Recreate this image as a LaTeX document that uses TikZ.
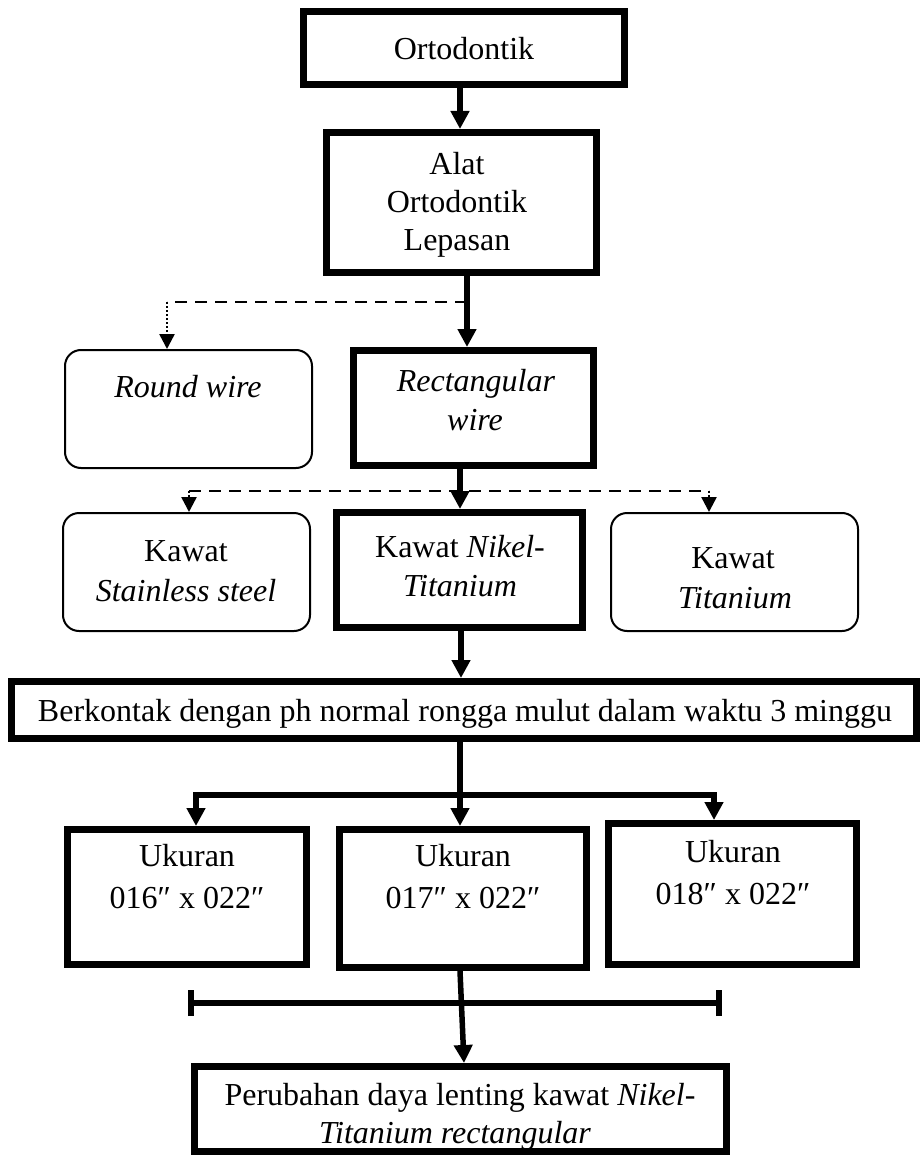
\documentclass[tikz,border=0pt]{standalone}
\usepackage{fontspec}
\setmainfont{Liberation Serif}
\usetikzlibrary{arrows.meta}
\begin{document}
\begin{tikzpicture}[x=1pt,y=-1pt,
  tbox/.style={draw, line width=7pt, inner sep=0pt},
  rbox/.style={draw, line width=2pt, rounded corners=16pt, inner sep=0pt},
  txt/.style={font=\fontsize{32pt}{38pt}\selectfont, inner sep=0pt, anchor=base},
  arr/.style={line width=5.5pt, -{Triangle[width=18pt,length=18pt]}},
  tl/.style={line width=5.5pt},
  dsh/.style={line width=2.5pt, dash pattern=on 12pt off 8pt},
  dotar/.style={line width=2.5pt, dash pattern=on 2pt off 2pt, -{Triangle[width=15pt,length=15pt]}}]
\fill[white] (0,0) rectangle (921,1155);
\useasboundingbox (0,0) rectangle (921,1155);
% boxes
\node[tbox, minimum width=321pt, minimum height=73pt] (ort) at (464,48) {};
\node[tbox, minimum width=270pt, minimum height=140pt] (alat) at (461,202.5) {};
\node[tbox, minimum width=240pt, minimum height=115pt] (rect) at (473.5,408) {};
\node[rbox, minimum width=247pt, minimum height=118pt] (round) at (188.5,409) {};
\node[rbox, minimum width=247pt, minimum height=118pt] (ss) at (186.5,572) {};
\node[tbox, minimum width=246pt, minimum height=115pt] (niti) at (459.5,570) {};
\node[rbox, minimum width=247pt, minimum height=118pt] (ti) at (734.5,572) {};
\node[tbox, minimum width=905pt, minimum height=57pt] (berk) at (464,710) {};
\node[tbox, minimum width=239pt, minimum height=135pt] (u1) at (187,897) {};
\node[tbox, minimum width=247pt, minimum height=138pt] (u2) at (463,898.5) {};
\node[tbox, minimum width=248pt, minimum height=141pt] (u3) at (732.5,894) {};
\node[tbox, minimum width=532pt, minimum height=85pt] (perub) at (460.5,1109) {};
% texts
\node[txt] (ort-t) at (464,60) {Ortodontik};
\node[txt] (alat-t1) at (457,175) {Alat};
\node[txt] (alat-t2) at (457,213) {Ortodontik};
\node[txt] (alat-t3) at (457,251) {Lepasan};
\node[txt] (round-t) at (188,397) {\textit{Round wire}};
\node[txt] (rect-t1) at (476,391) {\textit{Rectangular}};
\node[txt] (rect-t2) at (475,430) {\textit{wire}};
\node[txt] (ss-t1) at (186,561) {Kawat};
\node[txt] (ss-t2) at (186,601) {\textit{Stainless steel}};
\node[txt] (niti-t1) at (460,557) {Kawat \textit{Nikel-}};
\node[txt] (niti-t2) at (460,596) {\textit{Titanium}};
\node[txt] (ti-t1) at (733,568) {Kawat};
\node[txt] (ti-t2) at (735,608) {\textit{Titanium}};
\node[txt] (berk-t) at (465,721) {Berkontak dengan ph normal rongga mulut dalam waktu 3 minggu};
\node[txt] (u1-t1) at (187,866) {Ukuran};
\node[txt] (u1-t2) at (187,908) {016″ x 022″};
\node[txt] (u2-t1) at (463,866) {Ukuran};
\node[txt] (u2-t2) at (463,908) {017″ x 022″};
\node[txt] (u3-t1) at (733,862) {Ukuran};
\node[txt] (u3-t2) at (733,904) {018″ x 022″};
\node[txt] (perub-t1) at (460,1105) {Perubahan daya lenting kawat \textit{Nikel-}};
\node[txt] (perub-t2) at (455,1143) {\textit{Titanium rectangular}};
% connectors
\draw[arr] ([xshift=-4pt]ort.south) -- ([xshift=-4pt]ort.south |- alat.north);
\draw[arr] ([xshift=6pt]alat.south) -- ([xshift=6pt]alat.south |- rect.north);
\coordinate (d1) at (467,302);
\coordinate (d1l) at (167,302);
\draw[dsh] (d1) -- (d1l);
\draw[dotar] (d1l) -- (d1l |- round.north);
\draw[arr] ([xshift=-13.5pt]rect.south) -- ([xshift=-13.5pt]rect.south |- niti.north);
\coordinate (d2l) at (189,491);
\coordinate (d2r) at (709,491);
\draw[dsh] (d2l) -- (d2r);
\draw[dotar] (d2l) -- (d2l |- ss.north);
\draw[dotar] (d2r) -- (d2r |- ti.north);
\draw[arr] ([xshift=1.5pt]niti.south) -- ([xshift=1.5pt]niti.south |- berk.north);
\coordinate (jb) at (460,795);
\coordinate (jl) at (196,795);
\coordinate (jr) at (714,795);
\draw[arr] (jb |- berk.south) -- (jb |- u2.north);
\draw[arr] (jb) -| (jl |- u1.north);
\draw[arr] (jb) -| (jr |- u3.north);
\coordinate (bl) at (191,1003);
\coordinate (br) at (719,1003);
\draw[tl] (bl) -- (br);
\draw[tl] ([yshift=-13pt]bl) -- ([yshift=13pt]bl);
\draw[tl] ([yshift=-13pt]br) -- ([yshift=13pt]br);
\draw[arr] ([xshift=-3pt]u2.south) -- ([xshift=3.5pt]perub.north);
\end{tikzpicture}
\end{document}
